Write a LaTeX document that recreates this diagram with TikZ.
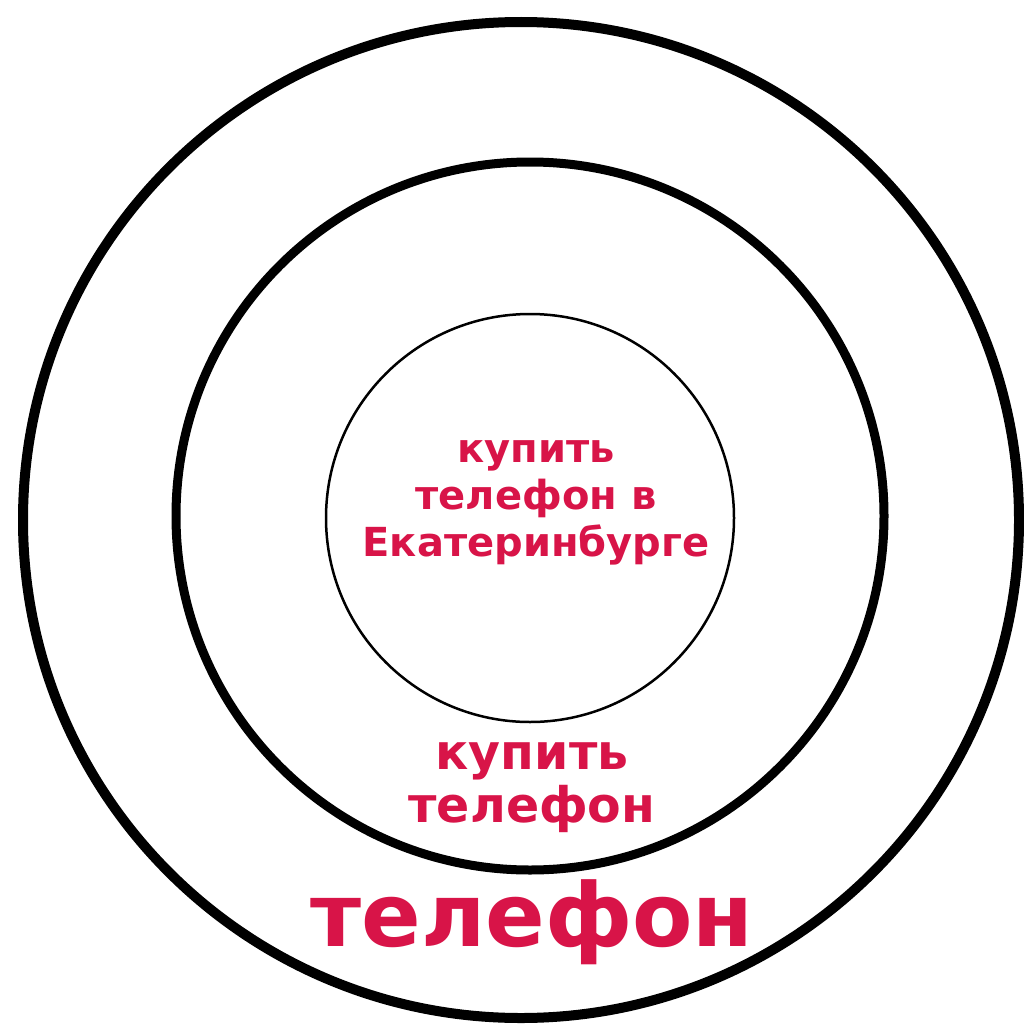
\documentclass[tikz,border=0pt]{standalone}
\usepackage{fontspec}
\setmainfont{DejaVu Sans}
\definecolor{lblred}{RGB}{216,20,72}
\tikzstyle{lbl} = [text=lblred, align=center, inner sep=0.75pt]

\begin{document}
\begin{tikzpicture}[x=1pt,y=1pt,yscale=-1,xscale=1]
\path [use as bounding box] (0,0) rectangle (1023,1025);

%Shape: Circle [outer]
\draw [line width=10pt] (521,520) circle (498pt);
%Shape: Circle [middle]
\draw [line width=9pt] (530,516) circle (354pt);
%Shape: Circle [inner]
\draw [line width=2.5pt] (530,518) circle (204pt);

% Text Node
\node [lbl, font=\bfseries\fontsize{40}{47}\selectfont] (inner) at (536,503) {купить\\телефон в\\Екатеринбурге};
% Text Node
\node [lbl, font=\bfseries\fontsize{49}{53}\selectfont] (middle) at (532,788) {купить\\телефон};
% Text Node
\node [lbl, font=\bfseries\fontsize{88}{100}\selectfont] (outer) at (532,922) {телефон};

\end{tikzpicture}
\end{document}
